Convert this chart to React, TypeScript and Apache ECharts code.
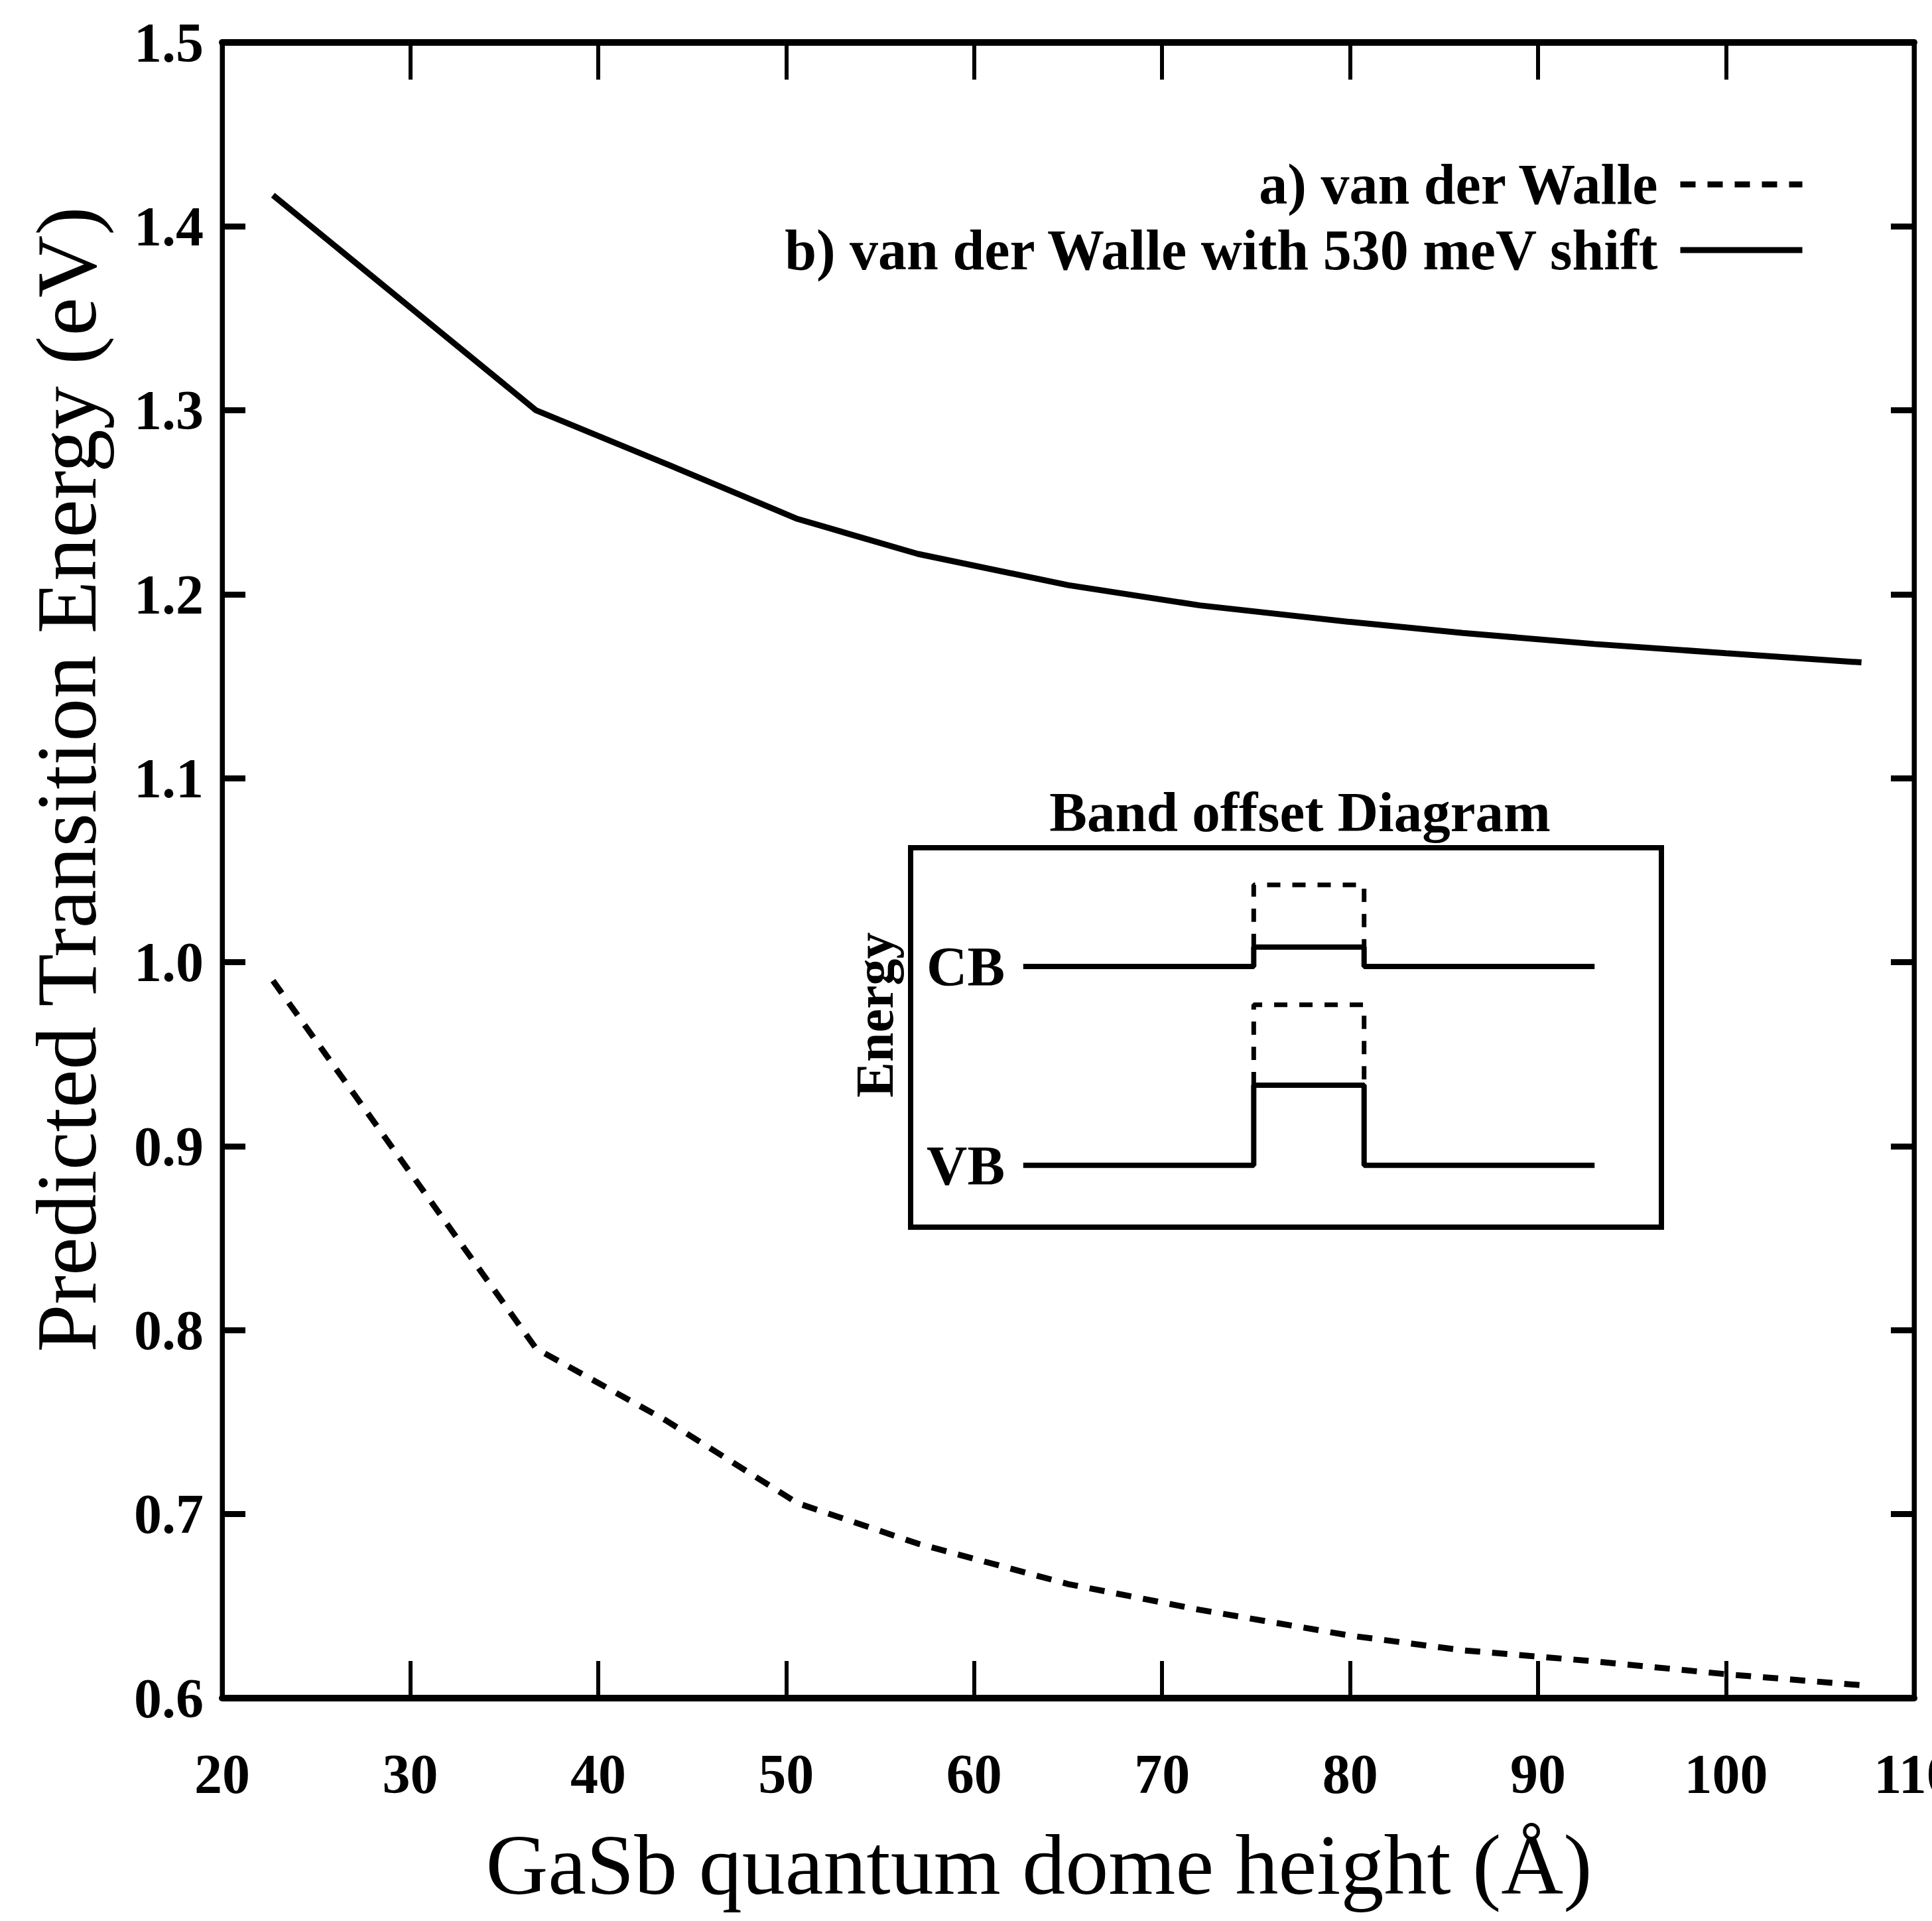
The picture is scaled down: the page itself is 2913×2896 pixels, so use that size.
import React, { useEffect, useRef } from "react";
import * as echarts from "echarts";

// ---- main plot data ----
const domeHeights = [22.7, 36.7, 43.6, 50.6, 57, 65, 72, 80, 86, 93, 100, 107.2];
const energyVanDerWalle = [0.99, 0.79, 0.751, 0.706, 0.684, 0.662, 0.648, 0.634, 0.626, 0.62, 0.613, 0.607];
const energyShifted = [1.417, 1.3, 1.271, 1.241, 1.222, 1.205, 1.194, 1.185, 1.179, 1.173, 1.168, 1.163];
const seriesNames = ["a) van der Walle", "b) van der Walle with 530 meV shift"];
const xRange = { min: 20, max: 110, interval: 10 };
const yRange = { min: 0.6, max: 1.5, interval: 0.1 };

// ---- inset (band offset diagram, arbitrary units) ----
const bandX = [15, 45.7, 45.7, 60.4, 60.4, 91.1];
const cbProfile = [68.7, 68.7, 73.8, 73.8, 68.7, 68.7];
const vbProfile = [16.3, 16.3, 37.4, 37.4, 16.3, 16.3];
const wellX = [45.7, 45.7, 60.4, 60.4];
const cbUnshifted = [73.8, 90.2, 90.2, 73.8];
const vbUnshifted = [37.4, 58.6, 58.6, 37.4];
const bandLevels = [16.3, 68.7];
const bandLabels = ["VB", "CB"];

const FONT = '"Liberation Serif", "Times New Roman", Times, serif';

const pair = (xs: number[], ys: number[]) => xs.map((x, i) => [x, ys[i]]);

export default function App() {
  const ref = useRef<HTMLDivElement>(null);

  useEffect(() => {
    if (!ref.current) return;
    const chart = echarts.init(ref.current, null, { renderer: "svg" });

    const tickLabel = { fontSize: 84, fontWeight: "bold" as const, fontFamily: FONT, color: "#000" };
    const dash = [23, 18];
    const legendText = { fontSize: 86, fontWeight: "bold", fontFamily: FONT, color: "#000", padding: [0, 29, 0, 0], lineHeight: 90 };

    const option: any = {
      animation: false,
      backgroundColor: "#fff",
      textStyle: { fontFamily: FONT, color: "#000" },
      grid: [
        { left: 335, right: 27, top: 64, bottom: 336, outerBoundsMode: "none", containLabel: false, show: true, borderColor: "#000", borderWidth: 7, backgroundColor: "transparent" },
        { left: 1373, top: 1278, width: 1132, height: 572, outerBoundsMode: "none", containLabel: false, show: true, borderColor: "#000", borderWidth: 8, backgroundColor: "transparent" },
      ],
      legend: [
        {
          data: [seriesNames[0]], right: 191, top: 233, padding: 0, align: "right",
          itemWidth: 184, itemHeight: 14, selectedMode: false,
          textStyle: legendText,
          lineStyle: { width: 9 }, itemStyle: { opacity: 0, borderWidth: 0 },
        },
        {
          data: [seriesNames[1]], right: 191, top: 332, padding: 0, align: "right",
          itemWidth: 184, itemHeight: 14, selectedMode: false,
          textStyle: legendText,
          lineStyle: { width: 9 }, itemStyle: { opacity: 0, borderWidth: 0 },
        },
      ],
      xAxis: [
        {
          gridIndex: 0, type: "value", ...xRange, position: "bottom",
          name: "GaSb quantum dome height (Å)", nameLocation: "middle", nameGap: 186,
          nameTextStyle: { fontSize: 130, fontFamily: FONT, color: "#000", padding: [0, 88, 0, 0] },
          axisLine: { show: true, onZero: false, lineStyle: { color: "#000", width: 10 } },
          axisTick: { show: true, inside: true, length: 56, lineStyle: { color: "#000", width: 6 } },
          axisLabel: { show: true, margin: 72, ...tickLabel },
          splitLine: { show: false },
        },
        {
          gridIndex: 0, type: "value", ...xRange, position: "top",
          axisLine: { show: true, onZero: false, lineStyle: { color: "#000", width: 10 } },
          axisTick: { show: true, inside: true, length: 56, lineStyle: { color: "#000", width: 6 } },
          axisLabel: { show: false },
          splitLine: { show: false },
        },
        {
          gridIndex: 1, type: "value", min: 0, max: 100, position: "top",
          name: "Band offset Diagram", nameLocation: "middle", nameGap: 12,
          nameTextStyle: { fontSize: 85, fontWeight: "bold", fontFamily: FONT, color: "#000", padding: [0, 0, 0, 42] },
          axisLine: { show: false }, axisTick: { show: false }, axisLabel: { show: false }, splitLine: { show: false },
        },
      ],
      yAxis: [
        {
          gridIndex: 0, type: "value", ...yRange, position: "left",
          name: "Predicted Transition Energy (eV)", nameLocation: "middle", nameGap: 170, nameRotate: 90,
          nameTextStyle: { fontSize: 130, fontFamily: FONT, color: "#000", padding: [0, 0, 0, 274] },
          axisLine: { show: true, onZero: false, lineStyle: { color: "#000", width: 7 } },
          axisTick: { show: true, inside: true, length: 35, lineStyle: { color: "#000", width: 9 } },
          axisLabel: { show: true, margin: 28, formatter: (v: number) => v.toFixed(1), ...tickLabel },
          splitLine: { show: false },
        },
        {
          gridIndex: 0, type: "value", ...yRange, position: "right",
          axisLine: { show: true, onZero: false, lineStyle: { color: "#000", width: 7 } },
          axisTick: { show: true, inside: true, length: 35, lineStyle: { color: "#000", width: 9 } },
          axisLabel: { show: false },
          splitLine: { show: false },
        },
        {
          gridIndex: 1, type: "value", min: 0, max: 100, position: "left",
          name: "Energy", nameLocation: "middle", nameGap: 14, nameRotate: 90,
          nameTextStyle: { fontSize: 80, fontWeight: "bold", fontFamily: FONT, color: "#000", padding: [0, 0, 0, 68] },
          axisLine: { show: false }, axisTick: { show: false }, splitLine: { show: false },
          axisLabel: {
            show: true, inside: true, margin: 24, customValues: bandLevels,
            formatter: (v: number) => {
              const i = bandLevels.indexOf(v);
              return i >= 0 ? bandLabels[i] : "";
            },
            fontSize: 85, fontWeight: "bold", fontFamily: FONT, color: "#000",
          },
        },
      ],
      series: [
        {
          name: seriesNames[0], type: "line", xAxisIndex: 0, yAxisIndex: 0,
          data: pair(domeHeights, energyVanDerWalle), symbol: "none", silent: true,
          itemStyle: { color: "#000" },
          lineStyle: { color: "#000", width: 9, type: dash },
        },
        {
          name: seriesNames[1], type: "line", xAxisIndex: 0, yAxisIndex: 0,
          data: pair(domeHeights, energyShifted), symbol: "none", silent: true,
          itemStyle: { color: "#000" },
          lineStyle: { color: "#000", width: 9, type: "solid" },
        },
        {
          name: "CB", type: "line", xAxisIndex: 2, yAxisIndex: 2,
          data: pair(bandX, cbProfile), symbol: "none", silent: true,
          lineStyle: { color: "#000", width: 8, type: "solid" },
        },
        {
          name: "VB", type: "line", xAxisIndex: 2, yAxisIndex: 2,
          data: pair(bandX, vbProfile), symbol: "none", silent: true,
          lineStyle: { color: "#000", width: 8, type: "solid" },
        },
        {
          name: "CB (unshifted)", type: "line", xAxisIndex: 2, yAxisIndex: 2,
          data: pair(wellX, cbUnshifted), symbol: "none", silent: true,
          lineStyle: { color: "#000", width: 7, type: [20, 18] },
        },
        {
          name: "VB (unshifted)", type: "line", xAxisIndex: 2, yAxisIndex: 2,
          data: pair(wellX, vbUnshifted), symbol: "none", silent: true,
          lineStyle: { color: "#000", width: 7, type: [20, 18] },
        },
      ],
    };

    chart.setOption(option);
    return () => chart.dispose();
  }, []);

  return (
    <div
      ref={ref}
      style={{ position: "absolute", left: 0, top: 0, width: 2913, height: 2896, background: "#fff" }}
    />
  );
}
